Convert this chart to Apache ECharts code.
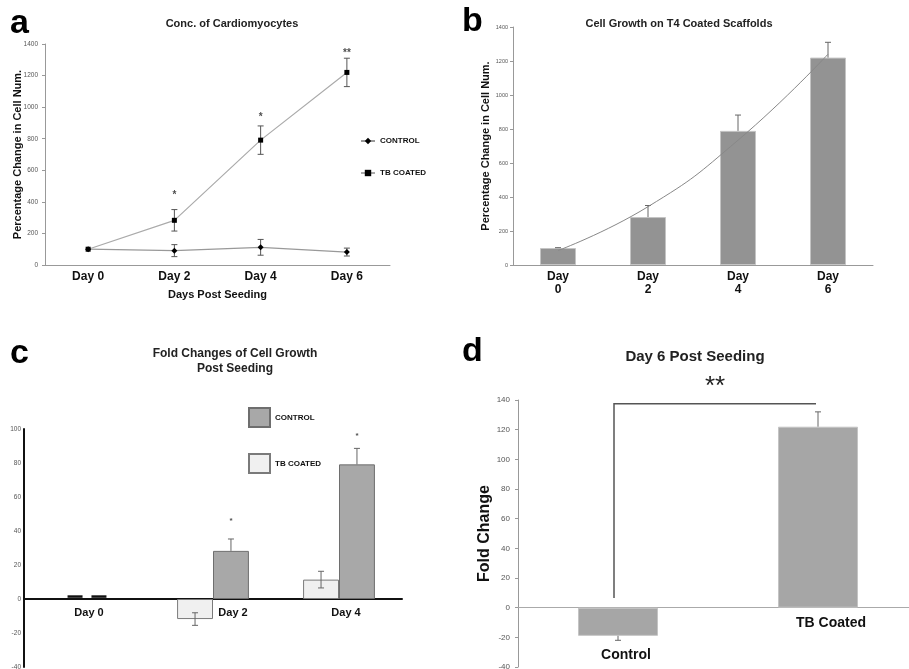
<!DOCTYPE html>
<html>
<head>
<meta charset="utf-8">
<script src="https://cdn.jsdelivr.net/npm/echarts@6/dist/echarts.min.js"></script>
<style>html,body{margin:0;padding:0;background:#fff}#c{width:909px;height:669px}</style>
</head>
<body>
<div id="c"></div>
<script>
// ---- Panel a: Conc. of Cardiomyocytes ----
const daysA = ['Day 0', 'Day 2', 'Day 4', 'Day 6'];
const controlA = [100, 91, 112, 82];
const controlAErr = [0, 38, 50, 25];
const tbA = [100, 283, 791, 1220];
const tbAErr = [0, 68, 90, 90];
const starsA = ['', '*', '*', '**'];
const starYA = [null, 440, 937, 1343];

// ---- Panel b: Cell Growth on T4 Coated Scaffolds ----
const daysB = ['Day\n0', 'Day\n2', 'Day\n4', 'Day\n6'];
const growthB = [100, 282, 789, 1220];
const growthBErr = [2, 68, 93, 90];
const trendB = [85, 343, 734, 1240];

// ---- Panel c: Fold Changes of Cell Growth Post Seeding ----
const daysC = ['Day 0', 'Day 2', 'Day 4'];
const controlC = [1, 28.3, 79.2];
const controlCErr = [0, 7, 9.4];
const tbC = [1, -11.8, 11.4];
const tbCErr = [0, 3.7, 4.9];
const starsC = ['', '*', '*'];
const starYC = [null, 46, 96];

// ---- Panel d: Day 6 Post Seeding ----
const groupsD = ['Control', 'TB Coated'];
const foldD = [-19, 122];
const foldDErr = [3, 10];
const bracketD = [6.5, 137.5];
const sigD = '**';
const sigYD = 149;

const FONT = 'Liberation Sans, Arial, sans-serif';

// grid geometry for panels c and d (value ranges drive the zero-line offset)
const rangeC = [-40, 100], heightC = 238;
const rangeD = [-40, 140], heightD = 267;
const zeroOffset = (range, h) => -h * (0 - range[0]) / (range[1] - range[0]);

function errRenderer(opts) {
  return function (params, api) {
    const i = api.value(0), v = api.value(1), e = api.value(2);
    const band = api.size([1, 0])[0];
    const p = api.coord([i, v]);
    const x = p[0] + (opts.offset || 0) * band;
    if (e === 0 && opts.zeroDash) {
      const xc = x + (opts.offset < 0 ? 6 : -6);
      return { type: 'rect', shape: { x: xc - 7.5, y: p[1] - 2, width: 15, height: 2.5 }, style: { fill: '#111' } };
    }
    if (e === 0) return null;
    const dir = v < 0 ? -1 : 1;
    const hi = opts.mode === 'both' ? v + e : v + dir * e;
    const lo = opts.mode === 'both' ? v - e : v;
    const y1 = api.coord([i, hi])[1], y2 = api.coord([i, lo])[1];
    const style = { stroke: opts.color, lineWidth: 1 };
    const ch = [
      { type: 'line', shape: { x1: x, y1: y1, x2: x, y2: y2 }, style: style },
      { type: 'line', shape: { x1: x - opts.cap, y1: y1, x2: x + opts.cap, y2: y1 }, style: style }
    ];
    if (opts.mode === 'both') ch.push({ type: 'line', shape: { x1: x - opts.cap, y1: y2, x2: x + opts.cap, y2: y2 }, style: style });
    return { type: 'group', children: ch };
  };
}
function errData(vals, errs) { return vals.map((v, i) => [i, v, errs[i]]); }
function starData(ys) { return ys.map((y, i) => y == null ? null : [i, y]).filter(Boolean); }

const smallAxisLabel = (size, margin) => ({ fontSize: size, color: '#555', margin: margin, fontFamily: FONT, formatter: v => String(v) });
const letter = (t, l, tp) => ({ text: t, left: l, top: tp, textStyle: { fontSize: 34, fontWeight: 'bold', color: '#000', fontFamily: FONT } });

const option = {
  animation: false,
  backgroundColor: '#fff',
  textStyle: { fontFamily: FONT },
  title: [
    letter('a', 5, 2), letter('b', 457, 0), letter('c', 5, 332), letter('d', 457, 330),
    { text: 'Conc. of Cardiomyocytes', left: 227, top: 13, textAlign: 'center', textStyle: { fontSize: 11, fontWeight: 'bold', color: '#222', fontFamily: FONT } },
    { text: 'Cell Growth on T4 Coated Scaffolds', left: 674, top: 13, textAlign: 'center', textStyle: { fontSize: 11, fontWeight: 'bold', color: '#222', fontFamily: FONT } },
    { text: 'Fold Changes of Cell Growth\nPost Seeding', left: 230, top: 341, textAlign: 'center', textStyle: { fontSize: 12, lineHeight: 15, fontWeight: 'bold', color: '#222', fontFamily: FONT } },
    { text: 'Day 6 Post Seeding', left: 690, top: 344, textAlign: 'center', textStyle: { fontSize: 15, fontWeight: 'bold', color: '#222', fontFamily: FONT } }
  ],
  legend: [
    {
      orient: 'vertical', left: 355, top: 132, itemWidth: 14, itemHeight: 8, itemGap: 24,
      data: ['CONTROL', 'TB COATED'],
      textStyle: { fontSize: 8, fontWeight: 'bold', color: '#111' }
    },
    {
      orient: 'vertical', left: 243, top: 402, itemWidth: 21, itemHeight: 19, itemGap: 25,
      data: [{ name: 'c-CONTROL', icon: 'rect' }, { name: 'c-TB COATED', icon: 'rect' }],
      formatter: n => n.replace('c-', ''),
      textStyle: { fontSize: 8, fontWeight: 'bold', color: '#111' }
    }
  ],
  grid: [
    { left: 45, top: 44, width: 345, height: 221, outerBoundsMode: 'none', containLabel: false },
    { left: 513, top: 27, width: 360, height: 238, outerBoundsMode: 'none', containLabel: false },
    { left: 24, top: 429, width: 378, height: heightC, outerBoundsMode: 'none', containLabel: false },
    { left: 518, top: 400, width: 400, height: heightD, outerBoundsMode: 'none', containLabel: false }
  ],
  xAxis: [
    {
      gridIndex: 0, type: 'category', data: daysA,
      name: 'Days Post Seeding', nameLocation: 'middle', nameGap: 24,
      nameTextStyle: { fontSize: 11, fontWeight: 'bold', color: '#111' },
      axisLine: { lineStyle: { color: '#999' } },
      axisTick: { length: 3, lineStyle: { color: '#999' } },
      axisLabel: { fontSize: 12, fontWeight: 'bold', color: '#111', margin: 6 }
    },
    {
      gridIndex: 1, type: 'category', data: daysB,
      axisLine: { lineStyle: { color: '#999' } },
      axisTick: { length: 3, lineStyle: { color: '#999' } },
      axisLabel: { fontSize: 12, fontWeight: 'bold', color: '#111', margin: 5, lineHeight: 13 }
    },
    {
      gridIndex: 2, type: 'category', position: 'bottom', offset: zeroOffset(rangeC, heightC),
      data: daysC,
      axisLine: { onZero: false, lineStyle: { color: '#111', width: 2 } },
      axisTick: { length: 3, lineStyle: { color: '#bbb' } },
      axisLabel: {
        fontSize: 11, fontWeight: 'bold', color: '#111', margin: 8,
        formatter: (v, i) => '{l' + i + '|' + v + '}',
        rich: { l0: { padding: [0, 0, 0, 4] }, l1: { padding: [0, 0, 0, 40] }, l2: { padding: [0, 0, 0, 14] } }
      }
    },
    {
      gridIndex: 3, type: 'category', position: 'bottom', offset: zeroOffset(rangeD, heightD),
      data: groupsD,
      axisLine: { onZero: false, lineStyle: { color: '#aaa' } },
      axisTick: { length: 4, lineStyle: { color: '#999' } },
      axisLabel: {
        fontSize: 14, fontWeight: 'bold', color: '#111', margin: 8,
        formatter: (v, i) => '{l' + i + '|' + v + '}',
        rich: { l0: { padding: [32, 0, 0, 16] }, l1: { padding: [0, 0, 0, 26] } }
      }
    }
  ],
  yAxis: [
    {
      gridIndex: 0, type: 'value', min: 0, max: 1400, interval: 200,
      name: 'Percentage Change in Cell Num.', nameLocation: 'middle', nameGap: 22, nameMoveOverlap: false,
      nameTextStyle: { fontSize: 11, fontWeight: 'bold', color: '#111' },
      axisLine: { show: true, lineStyle: { color: '#999' } },
      axisTick: { show: true, length: 3, lineStyle: { color: '#999' } },
      splitLine: { show: false },
      axisLabel: smallAxisLabel(6.5, 7)
    },
    {
      gridIndex: 1, type: 'value', min: 0, max: 1400, interval: 200,
      name: 'Percentage Change in Cell Num.', nameLocation: 'middle', nameGap: 22, nameMoveOverlap: false,
      nameTextStyle: { fontSize: 11, fontWeight: 'bold', color: '#111' },
      axisLine: { show: true, lineStyle: { color: '#999' } },
      axisTick: { show: true, length: 3, lineStyle: { color: '#999' } },
      splitLine: { show: false },
      axisLabel: smallAxisLabel(5.5, 5)
    },
    {
      gridIndex: 2, type: 'value', min: rangeC[0], max: rangeC[1], interval: 20,
      axisLine: { show: true, onZero: false, lineStyle: { color: '#111', width: 2 } },
      axisTick: { show: false },
      splitLine: { show: false },
      axisLabel: smallAxisLabel(6.5, 3)
    },
    {
      gridIndex: 3, type: 'value', min: rangeD[0], max: rangeD[1], interval: 20,
      axisLine: { show: true, onZero: false, lineStyle: { color: '#999' } },
      axisTick: { show: true, length: 3, lineStyle: { color: '#999' } },
      splitLine: { show: false },
      name: 'Fold Change', nameLocation: 'middle', nameGap: 25, nameMoveOverlap: false,
      nameTextStyle: { fontSize: 16, fontWeight: 'bold', color: '#111' },
      axisLabel: smallAxisLabel(8, 8)
    }
  ],
  series: [
    // panel a
    {
      name: 'CONTROL', type: 'line', xAxisIndex: 0, yAxisIndex: 0, data: controlA,
      symbol: 'diamond', symbolSize: 6, itemStyle: { color: '#000' },
      lineStyle: { color: '#999', width: 1.2 }
    },
    {
      name: 'TB COATED', type: 'line', xAxisIndex: 0, yAxisIndex: 0, data: tbA,
      symbol: 'rect', symbolSize: 5, itemStyle: { color: '#000' },
      lineStyle: { color: '#aaa', width: 1.2 }
    },
    {
      type: 'custom', xAxisIndex: 0, yAxisIndex: 0, data: errData(controlA, controlAErr),
      renderItem: errRenderer({ mode: 'both', cap: 3, color: '#555' }), z: 3
    },
    {
      type: 'custom', xAxisIndex: 0, yAxisIndex: 0, data: errData(tbA, tbAErr),
      renderItem: errRenderer({ mode: 'both', cap: 3, color: '#555' }), z: 3
    },
    {
      type: 'scatter', xAxisIndex: 0, yAxisIndex: 0, data: starData(starYA), symbolSize: 0,
      label: { show: true, position: 'inside', formatter: p => starsA[p.data[0]], fontSize: 10, fontWeight: 'bold', color: '#222' }
    },
    // panel b
    {
      type: 'bar', xAxisIndex: 1, yAxisIndex: 1, data: growthB, barWidth: '40%',
      itemStyle: { color: '#939393', borderColor: '#c4c4c4', borderWidth: 1 }
    },
    {
      type: 'custom', xAxisIndex: 1, yAxisIndex: 1, data: errData(growthB, growthBErr),
      renderItem: errRenderer({ mode: 'out', cap: 3, color: '#666' }), z: 3
    },
    {
      type: 'line', xAxisIndex: 1, yAxisIndex: 1, data: trendB, smooth: true, symbol: 'none',
      lineStyle: { color: '#888', width: 1 }, z: 4
    },
    // panel c
    {
      name: 'c-TB COATED', type: 'bar', xAxisIndex: 2, yAxisIndex: 2,
      data: tbC.map((v, i) => tbCErr[i] === 0 ? { value: v, itemStyle: { opacity: 0 } } : v),
      barGap: '0%', barCategoryGap: '43%',
      itemStyle: { color: '#f0f0f0', borderColor: '#7a7a7a', borderWidth: 1 }
    },
    {
      name: 'c-CONTROL', type: 'bar', xAxisIndex: 2, yAxisIndex: 2,
      data: controlC.map((v, i) => controlCErr[i] === 0 ? { value: v, itemStyle: { opacity: 0 } } : v),
      barGap: '0%', barCategoryGap: '43%',
      itemStyle: { color: '#a8a8a8', borderColor: '#6e6e6e', borderWidth: 1 }
    },
    {
      type: 'custom', xAxisIndex: 2, yAxisIndex: 2, data: errData(tbC, tbCErr),
      renderItem: errRenderer({ mode: 'both', cap: 3, color: '#666', offset: -0.1425, zeroDash: true }), z: 3
    },
    {
      type: 'custom', xAxisIndex: 2, yAxisIndex: 2, data: errData(controlC, controlCErr),
      renderItem: errRenderer({ mode: 'out', cap: 3, color: '#666', offset: 0.1425, zeroDash: true }), z: 3
    },
    {
      type: 'scatter', xAxisIndex: 2, yAxisIndex: 2,
      data: starData(starYC), symbolSize: 0,
      label: { show: true, position: 'inside', offset: [0.1425 * 126, 0], formatter: p => starsC[p.data[0]], fontSize: 8, fontWeight: 'bold', color: '#222' }
    },
    // panel d
    {
      type: 'bar', xAxisIndex: 3, yAxisIndex: 3, data: foldD, barWidth: '40%',
      itemStyle: { color: '#a6a6a6', borderColor: '#c4c4c4', borderWidth: 1 }
    },
    {
      type: 'custom', xAxisIndex: 3, yAxisIndex: 3, data: errData(foldD, foldDErr),
      renderItem: errRenderer({ mode: 'out', cap: 3, color: '#666' }), z: 3
    },
    {
      type: 'custom', xAxisIndex: 3, yAxisIndex: 3, data: [[0, bracketD[0], bracketD[1]]],
      renderItem: function (params, api) {
        const pb = api.coord([0, api.value(1)]);
        const pt = api.coord([0, api.value(2)]);
        const pr = api.coord([1, api.value(2)]);
        const ps = api.coord([0, sigYD]);
        return {
          type: 'group', children: [
            { type: 'polyline', shape: { points: [[pb[0] - 4, pb[1]], [pt[0] - 4, pt[1]], [pr[0] - 2, pr[1]]] }, style: { stroke: '#555', lineWidth: 1.5, fill: null } },
            { type: 'text', x: (pt[0] + pr[0]) / 2 - 3, y: ps[1], style: { text: sigD, fontSize: 26, fontFamily: FONT, fill: '#222', align: 'center', verticalAlign: 'middle' } }
          ]
        };
      }, z: 3
    }
  ]
};

const chart = echarts.init(document.getElementById('c'), null, { renderer: 'canvas' });
chart.setOption(option);
</script>
</body>
</html>
